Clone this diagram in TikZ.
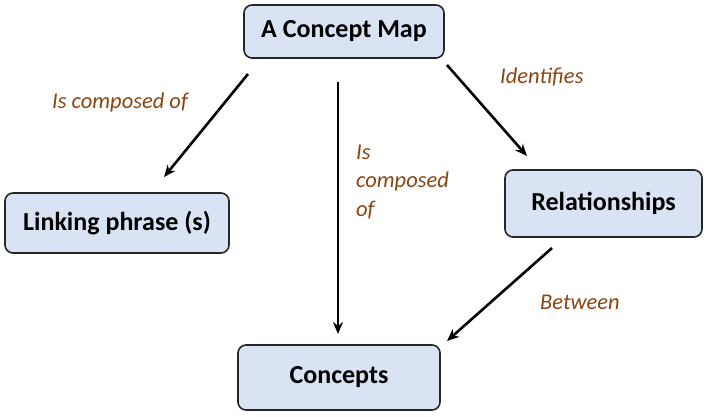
\documentclass[tikz,border=0pt]{standalone}
\usepackage{fontspec}
\setmainfont{Carlito}
\usetikzlibrary{arrows.meta}
\definecolor{boxfill}{HTML}{DAE3F3}
\definecolor{labbrown}{HTML}{8B4513}
\begin{document}
\begin{tikzpicture}[x=1pt,y=-1pt,
  cbox/.style={draw=black!85, line width=1.6pt, fill=boxfill, rounded corners=8pt, font=\bfseries\fontsize{26}{30}\selectfont, inner sep=0pt},
  arr/.style={line width=2.6pt, -{Stealth[length=12pt,width=10pt]}},
  lab/.style={text=labbrown, font=\itshape\fontsize{22.5}{28.5}\selectfont, inner sep=0pt}]
\useasboundingbox (0,0) rectangle (709,416);
\node[cbox, minimum width=200pt, minimum height=53pt] (map) at (344,31.5) {A Concept Map};
\node[cbox, minimum width=224pt, minimum height=60pt] (link) at (117,223) {Linking phrase (s)};
\node[cbox, minimum width=197pt, minimum height=67pt] (rel) at (603.5,203.5) {Relationships};
\node[cbox, minimum width=202pt, minimum height=65pt] (con) at (339,377.5) {Concepts};
\coordinate (a1s) at (248,74);
\coordinate (a1e) at (164,177);
\coordinate (a2s) at (338,82);
\coordinate (a2e) at (338,334);
\coordinate (a3s) at (447,65);
\coordinate (a3e) at (527,156);
\coordinate (a4s) at (552,248);
\coordinate (a4e) at (447,341);
\draw[arr] (a1s) -- (a1e);
\draw[arr] (a2s) -- (a2e);
\draw[arr] (a3s) -- (a3e);
\draw[arr] (a4s) -- (a4e);
\node[lab, anchor=west] (l1) at (52,102) {Is composed of};
\node[lab, anchor=west, align=left] (l2) at (356,182) {Is\\composed\\of};
\node[lab, anchor=west] (l3) at (500,77) {Identifies};
\node[lab, anchor=west] (l4) at (540,302) {Between};
\end{tikzpicture}
\end{document}
